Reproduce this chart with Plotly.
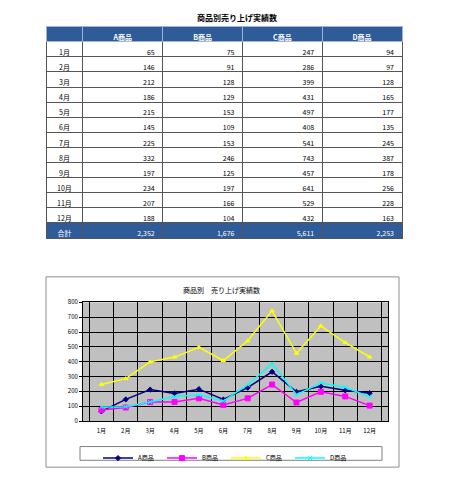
import plotly.graph_objects as go

# page body has an 8px margin, so the figure is drawn 8px smaller and offset
OFF = 8
W, H = 474 - OFF, 479 - OFF

months = ["1月", "2月", "3月", "4月", "5月", "6月", "7月", "8月", "9月", "10月", "11月", "12月"]
series_names = ["A商品", "B商品", "C商品", "D商品"]
a_vals = [65, 146, 212, 186, 215, 145, 225, 332, 197, 234, 207, 188]
b_vals = [75, 91, 128, 129, 153, 109, 153, 246, 125, 197, 166, 104]
c_vals = [247, 286, 399, 431, 497, 408, 541, 743, 457, 641, 529, 432]
d_vals = [94, 97, 128, 165, 177, 135, 245, 387, 178, 256, 228, 163]
total_label = "合計"
table_title = "商品別売り上げ実績数"
chart_title = "商品別　売り上げ実績数"
y_ticks = [0, 100, 200, 300, 400, 500, 600, 700, 800]

series = [a_vals, b_vals, c_vals, d_vals]
colors = ["#000080", "#FF00FF", "#FFFF00", "#00FFFF"]
symbols = ["diamond", "square", "triangle-up", "x-thin"]
msizes = [4, 5, 4, 4]

FONT = "Noto Sans CJK JP, Noto Sans, sans-serif"
BLUE = "#2F5B98"


def px(x):
    return (x - OFF) / W


def py(y):
    return 1 - (y - OFF) / H


fig = go.Figure()

# ---------- table ----------
first_col = months + [total_label]
cols = [first_col]
for s in series:
    cols.append([str(v) for v in s] + [f"{sum(s):,}"])

fill_rows = ["white"] * len(months) + [BLUE]
font_rows = ["black"] * len(months) + ["white"]

fig.add_trace(go.Table(
    domain=dict(x=[px(46), px(402)], y=[py(250), py(22)]),
    columnwidth=[37, 80, 80, 80, 80],
    header=dict(
        values=["\u00a0", *series_names],
        fill_color=BLUE,
        line=dict(color="#9fb3d3", width=1),
        font=dict(family=FONT, size=7, color="white", weight="bold"),
        align="center",
        height=15,
    ),
    cells=dict(
        values=cols,
        fill_color=[fill_rows] * 5,
        line=dict(color="#555555", width=1),
        font=dict(family=FONT, size=7, color=[font_rows] * 5),
        align=["center", "right", "right", "right", "right"],
        height=15.1,
    ),
))

# ---------- line chart ----------
for name, s, c, sym, ms in zip(series_names, series, colors, symbols, msizes):
    fig.add_trace(go.Scatter(
        x=months, y=s, name=name, mode="lines+markers",
        line=dict(color=c, width=1.5),
        marker=dict(symbol=sym, size=ms, color=c,
                    line=dict(color=c, width=1)),
    ))

fig.update_layout(
    width=W, height=H, autosize=False,
    margin=dict(l=0, r=0, t=0, b=0),
    paper_bgcolor="white",
    plot_bgcolor="#C0C0C0",
    font=dict(family=FONT, size=6, color="black"),
    showlegend=True,
    legend=dict(
        orientation="h", x=px(98), y=py(447), xanchor="left", yanchor="top",
        bgcolor="rgba(0,0,0,0)", borderwidth=0,
        font=dict(size=6), entrywidth=19, entrywidthmode="pixels",
        itemwidth=30, tracegroupgap=0,
    ),
    xaxis=dict(
        domain=[px(83), px(388)], type="category", tickson="boundaries",
        showgrid=True, gridcolor="black", gridwidth=1,
        showline=True, linecolor="black", linewidth=1, mirror=True,
        ticks="", tickfont=dict(size=6), ticklabelstandoff=4,
        fixedrange=True,
    ),
    yaxis=dict(
        domain=[py(424), py(303)], range=[0, 800],
        tickvals=y_ticks, showgrid=True, gridcolor="black", gridwidth=1,
        showline=True, linecolor="black", linewidth=1, mirror=True,
        zeroline=False, ticks="outside", ticklen=3, tickcolor="black",
        tickfont=dict(size=6), fixedrange=True,
    ),
    shapes=[
        dict(type="rect", xref="paper", yref="paper",
             x0=px(46), x1=px(399), y0=py(471), y1=py(277),
             line=dict(color="#909090", width=1), fillcolor="rgba(0,0,0,0)", layer="below"),
        dict(type="rect", xref="paper", yref="paper",
             x0=px(80), x1=px(382), y0=py(464), y1=py(450),
             line=dict(color="#808080", width=1), fillcolor="rgba(0,0,0,0)"),
    ],
    annotations=[
        dict(text=f"<b>{table_title}</b>", xref="paper", yref="paper",
             x=px(237), y=py(13), xanchor="center", yanchor="middle",
             showarrow=False, font=dict(size=8, family=FONT)),
        dict(text=chart_title, xref="paper", yref="paper",
             x=px(221), y=py(290), xanchor="center", yanchor="middle",
             showarrow=False, font=dict(size=7, family=FONT)),
    ],
)

fig.write_html("out.html")
